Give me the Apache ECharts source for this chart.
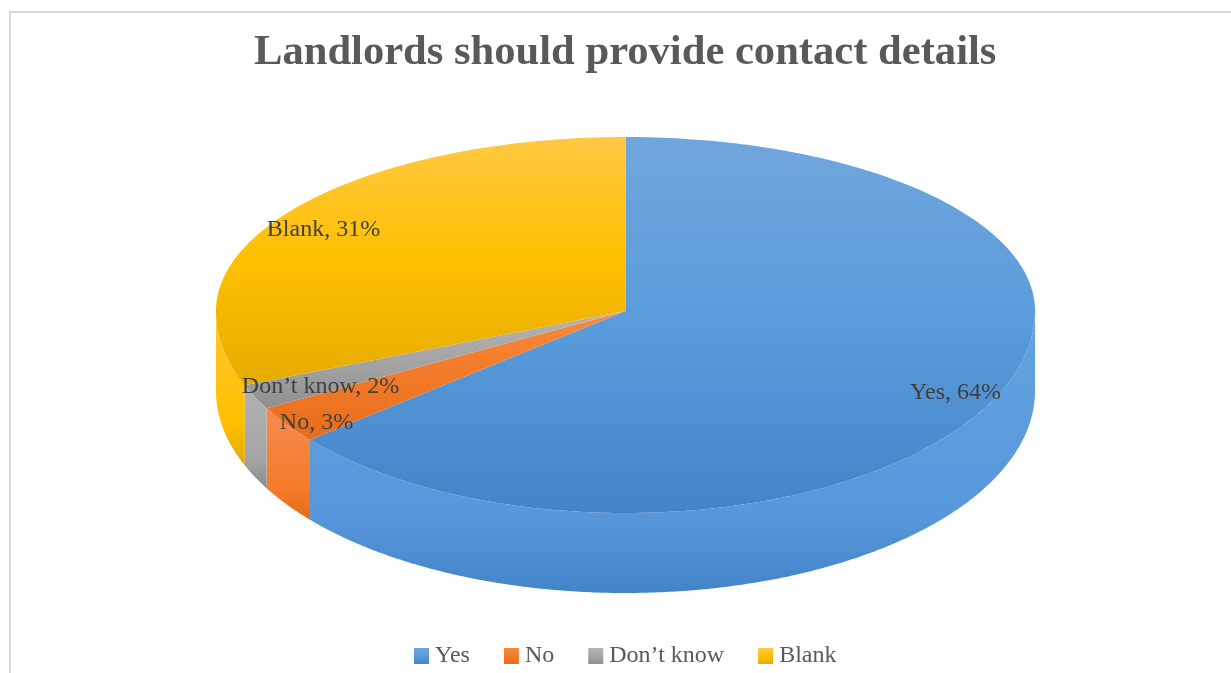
<!DOCTYPE html>
<html>
<head>
<meta charset="utf-8">
<style>html,body{margin:0;padding:0;background:#fff;overflow:hidden}#chart{width:1231px;height:673px}</style>
<script src="https://cdn.jsdelivr.net/npm/echarts@6/dist/echarts.min.js"></script>
</head>
<body>
<div id="chart"></div>
<script>
// Survey answers, in percent
const categories = ['Yes', 'No', 'Don\u2019t know', 'Blank'];
const shares = [64, 3, 2, 31];

// Top-face and side-wall gradients per answer
const topStops = [
  ['#70A6DC', '#5A9BDB', '#4384C8'],
  ['#F88A3E', '#F27A28', '#E56C1A'],
  ['#B4B4B4', '#A5A5A5', '#8F8F8F'],
  ['#FFC843', '#FFC000', '#E5AB00']
];
const sideStops = [
  ['#66A2DE', '#5698DB', '#4284C7'],
  ['#F58B52', '#F47C2A', '#E56B1A'],
  ['#B2B2B2', '#A5A5A5', '#8A8A8A'],
  ['#FFC62E', '#FFC000', '#E3A800']
];

// Tilted disc: the front half of the rim is foreshortened less than the back half
const disc = { cx: 625.5, cy: 311, rx: 409.5, ryBack: 174, ryFront: 202, depth: 80 };
// Label centres relative to the disc centre
const labelOffsets = [[330, 82], [-309, 112], [-305, 76], [-302, -81]];

const total = shares.reduce((a, b) => a + b, 0);

function rimPoint(deg, drop) {
  const t = deg * Math.PI / 180;
  const c = Math.cos(t);
  return [
    disc.cx + disc.rx * Math.sin(t),
    disc.cy + drop - c * (c > 0 ? disc.ryBack : disc.ryFront)
  ];
}

function arc(from, to, drop) {
  const n = Math.max(2, Math.ceil(Math.abs(to - from) * 2));
  const pts = [];
  for (let i = 0; i <= n; i++) pts.push(rimPoint(from + (to - from) * i / n, drop));
  return pts;
}

function gradient(stops, mid) {
  return new echarts.graphic.LinearGradient(0, 0, 0, 1, [
    { offset: 0, color: stops[0] },
    { offset: mid, color: stops[1] },
    { offset: 1, color: stops[2] }
  ]);
}

function sliceRenderer(index, startShare) {
  return function (params, api) {
    const value = api.value(0);
    const a0 = startShare / total * 360;
    const a1 = (startShare + value) / total * 360;
    const children = [];

    // Side wall: only the part of the rim facing the viewer
    const s0 = Math.max(a0, 90);
    const s1 = Math.min(a1, 270);
    if (s1 > s0) {
      const wall = arc(s0, s1, 0).concat(arc(s1, s0, disc.depth));
      children.push({
        type: 'polygon',
        shape: { points: wall },
        z2: 1,
        style: { fill: gradient(sideStops[index], 0.72) }
      });
    }

    // Top face
    const face = [[disc.cx, disc.cy]].concat(arc(a0, a1, 0));
    children.push({
      type: 'polygon',
      shape: { points: face },
      z2: 2,
      style: { fill: gradient(topStops[index], 0.5) }
    });

    children.push({
      type: 'text',
      z2: 100,
      style: {
        x: disc.cx + labelOffsets[index][0],
        y: disc.cy + labelOffsets[index][1],
        text: categories[index] + ', ' + value + '%',
        fill: '#404040',
        font: '24px "Liberation Serif"',
        align: 'center',
        verticalAlign: 'middle'
      }
    });
    return { type: 'group', children };
  };
}

let running = 0;
const series = categories.map((name, i) => {
  const start = running;
  running += shares[i];
  return {
    type: 'custom',
    name,
    coordinateSystem: 'none',
    silent: true,
    data: [[shares[i]]],
    itemStyle: { color: gradient(topStops[i], 0.5) },
    renderItem: sliceRenderer(i, start)
  };
});

const chart = echarts.init(document.getElementById('chart'), null, { renderer: 'canvas' });
chart.setOption({
  animation: false,
  backgroundColor: '#ffffff',
  title: {
    text: 'Landlords should provide contact details',
    left: 254,
    top: 31,
    padding: 0,
    textStyle: {
      fontFamily: 'Liberation Serif',
      fontWeight: 'bold',
      fontSize: 42.6,
      color: '#595959'
    }
  },
  legend: {
    left: 414,
    top: 644,
    padding: 0,
    itemWidth: 15,
    itemHeight: 16,
    itemGap: 34,
    icon: 'rect',
    selectedMode: false,
    data: categories,
    textStyle: {
      fontFamily: 'Liberation Serif',
      fontSize: 24,
      color: '#595959',
      padding: [0, 0, 0, 1]
    }
  },
  graphic: [{
    type: 'rect',
    silent: true,
    shape: { x: 10, y: 12, width: 1400, height: 800 },
    style: { fill: null, stroke: '#D9D9D9', lineWidth: 2 }
  }],
  series
});
</script>
</body>
</html>
